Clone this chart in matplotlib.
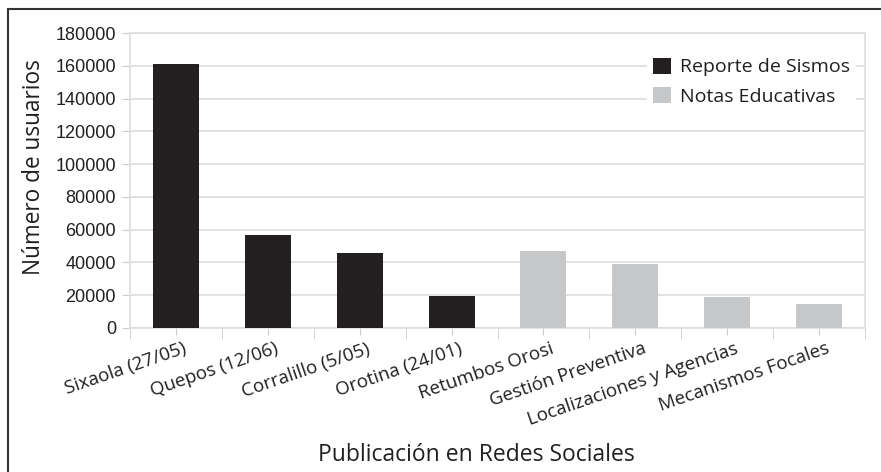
import matplotlib
matplotlib.use("Agg")
import matplotlib.pyplot as plt
import matplotlib.transforms as mtransforms
from matplotlib.patches import Rectangle, Patch

categories = ["Sixaola (27/05)", "Quepos (12/06)", "Corralillo (5/05)", "Orotina (24/01)",
              "Retumbos Orosi", "Gestión Preventiva", "Localizaciones y Agencias", "Mecanismos Focales"]
values = [161000, 56500, 45500, 19500, 47200, 38900, 19100, 14600]
groups = ["Reporte de Sismos"] * 4 + ["Notas Educativas"] * 4
colors = {"Reporte de Sismos": "#231f20", "Notas Educativas": "#c6c7c9"}
yticks = list(range(0, 180001, 20000))

label_font = ["Open Sans", "DejaVu Sans"]
num_font = ["Liberation Sans", "DejaVu Sans"]

fig = plt.figure(figsize=(8.81, 4.72), dpi=100)
ax = fig.add_axes([130/881, 1-328/472, (865-130)/881, (328-33)/472])

x = list(range(len(categories)))
ax.bar(x, values, width=0.5, color=[colors[g] for g in groups], zorder=3)

ax.set_xlim(-0.5, len(categories) - 0.5)
ax.set_ylim(0, 180000)
ax.set_yticks(yticks)
ax.set_yticklabels([str(v) for v in yticks], family=num_font, fontsize=13, color="#231f20")
ax.yaxis.grid(True, color="#dddddd", lw=1.2, zorder=0)
ax.tick_params(axis="y", length=6, color="#cccccc", pad=4)

ax.set_xticks(x)
ax.set_xticks([i - 0.5 for i in range(len(categories) + 1)], minor=True)
ax.tick_params(axis="x", which="major", length=5, color="#cccccc")
ax.tick_params(axis="x", which="minor", length=8, color="#cccccc")
offset = mtransforms.ScaledTranslation(7/100, 0, fig.dpi_scale_trans)
labels = ax.set_xticklabels(categories, family=label_font, fontsize=13.5, rotation=19,
                            ha="right", rotation_mode="anchor", color="#231f20")
for lab in labels:
    lab.set_transform(lab.get_transform() + offset)

for s in ax.spines.values():
    s.set_color("#dddddd")
    s.set_linewidth(1.2)

ax.set_ylabel("Número de usuarios", family=label_font, fontsize=16.3, color="#231f20")
ax.yaxis.set_label_coords((46 - 130) / (865 - 130), (328 - 167) / (328 - 33))
fig.text(476/881, 1-455/472, "Publicación en Redes Sociales", family=label_font,
         fontsize=16.5, color="#231f20", ha="center", va="center")

handles = [Patch(facecolor=colors[g], edgecolor="none", label=g) for g in ["Reporte de Sismos", "Notas Educativas"]]
leg = ax.legend(handles=handles, loc="upper right", bbox_to_anchor=(866/881, 1-42/472),
                bbox_transform=fig.transFigure, frameon=True, facecolor="white", edgecolor="none",
                framealpha=1, prop={"family": label_font, "size": 14}, handlelength=0.9,
                handleheight=0.9, labelspacing=0.55, handletextpad=0.5, borderpad=0.3)
for t in leg.get_texts():
    t.set_color("#231f20")

fig.patches.append(Rectangle((8/881, -0.05), 1.1, 1 - 9/472 + 0.05, transform=fig.transFigure,
                             fill=False, edgecolor="#333333", lw=1.5, zorder=10))

fig.savefig("out.png", dpi=100)
